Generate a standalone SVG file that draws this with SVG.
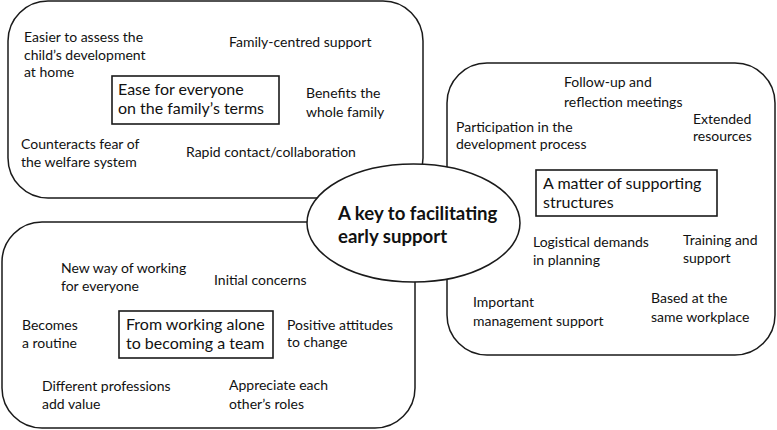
<svg xmlns="http://www.w3.org/2000/svg" width="777" height="430" viewBox="0 0 777 430">
<style>
.box{fill:#fff;stroke:#1a1a1a;stroke-width:1.5}
.inner{fill:none;stroke:#1a1a1a;stroke-width:1.6}
text{font-family:Lato,"Open Sans",sans-serif;fill:#111}
.t{font-size:14px}
.h{font-size:16px}
.c{font-size:18.6px;font-weight:bold}
</style>
<rect width="777" height="430" fill="#fff"/>
<g id="family">
<rect class="box" x="8" y="1" width="415" height="197" rx="40" ry="40"/>
<text class="t" x="24" y="42">Easier to assess the</text>
<text class="t" x="24" y="60">child’s development</text>
<text class="t" x="24" y="77">at home</text>
<text class="t" x="229" y="47">Family-centred support</text>
<rect class="inner" x="112" y="76" width="167" height="48"/>
<text class="h" x="118" y="95">Ease for everyone</text>
<text class="h" x="118" y="114">on the family’s terms</text>
<text class="t" x="306" y="98">Benefits the</text>
<text class="t" x="306" y="117">whole family</text>
<text class="t" x="21" y="149">Counteracts fear of</text>
<text class="t" x="21" y="167">the welfare system</text>
<text class="t" x="186" y="157">Rapid contact/collaboration</text>
</g>
<g id="structures">
<rect class="box" x="447" y="63" width="328" height="292" rx="40" ry="40"/>
<text class="t" x="564" y="87">Follow-up and</text>
<text class="t" x="564" y="107">reflection meetings</text>
<text class="t" x="693" y="124">Extended</text>
<text class="t" x="693" y="141">resources</text>
<text class="t" x="456" y="132">Participation in the</text>
<text class="t" x="456" y="149">development process</text>
<rect class="inner" x="536" y="170" width="181" height="46"/>
<text class="h" x="543" y="189">A matter of supporting</text>
<text class="h" x="543" y="208">structures</text>
<text class="t" x="533" y="247">Logistical demands</text>
<text class="t" x="533" y="265">in planning</text>
<text class="t" x="683" y="245">Training and</text>
<text class="t" x="683" y="263">support</text>
<text class="t" x="473" y="307">Important</text>
<text class="t" x="473" y="326">management support</text>
<text class="t" x="651" y="303">Based at the</text>
<text class="t" x="651" y="322">same workplace</text>
</g>
<g id="team">
<rect class="box" x="2" y="222" width="413" height="206" rx="40" ry="40"/>
<text class="t" x="61" y="273">New way of working</text>
<text class="t" x="61" y="291">for everyone</text>
<text class="t" x="214" y="285">Initial concerns</text>
<text class="t" x="22" y="330">Becomes</text>
<text class="t" x="22" y="348">a routine</text>
<rect class="inner" x="119" y="311" width="154" height="47"/>
<text class="h" x="126" y="330">From working alone</text>
<text class="h" x="126" y="349">to becoming a team</text>
<text class="t" x="287" y="330">Positive attitudes</text>
<text class="t" x="287" y="347">to change</text>
<text class="t" x="42" y="391">Different professions</text>
<text class="t" x="42" y="409">add value</text>
<text class="t" x="229" y="390">Appreciate each</text>
<text class="t" x="229" y="409">other’s roles</text>
</g>
<g id="core">
<ellipse class="box" cx="413.5" cy="223" rx="106.5" ry="59"/>
<text class="c" x="338" y="220">A key to facilitating</text>
<text class="c" x="338" y="243">early support</text>
</g>
</svg>
